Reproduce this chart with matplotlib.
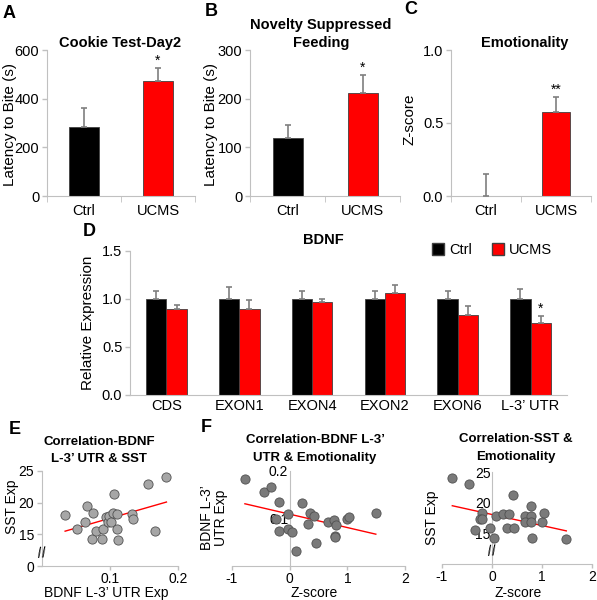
import matplotlib

matplotlib.use("Agg")
import matplotlib.pyplot as plt
import matplotlib.transforms as mtransforms
from matplotlib.patches import Patch

plt.rcParams.update({
    "font.family": ["Liberation Sans", "DejaVu Sans"],
    "font.size": 10.5,
    "axes.edgecolor": "#c0c0c0",
    "xtick.color": "#c0c0c0",
    "ytick.color": "#c0c0c0",
    "xtick.labelcolor": "black",
    "ytick.labelcolor": "black",
})

W, H = 597, 600
BLACK = "#000000"
RED = "#ff0000"
ERR = "#7f7f7f"
TICK = 10.5
LAB = 11
TITLE = 10.5
SC = 10

groups = ["Ctrl", "UCMS"]

# A: cookie test
cookie_mean = [285, 472]
cookie_err = [75, 53]
# B: novelty suppressed feeding
nsf_mean = [120, 212]
nsf_err = [26, 37]
# C: emotionality
emo_mean = [0.0, 0.575]
emo_err = [0.15, 0.105]

# D: BDNF exons
exons = ["CDS", "EXON1", "EXON4", "EXON2", "EXON6", "L-3\u2019 UTR"]
bdnf_ctrl = [1.0, 1.0, 1.0, 1.0, 1.0, 1.0]
bdnf_ctrl_err = [0.08, 0.13, 0.08, 0.08, 0.08, 0.10]
bdnf_ucms = [0.90, 0.90, 0.97, 1.065, 0.835, 0.75]
bdnf_ucms_err = [0.04, 0.09, 0.03, 0.08, 0.095, 0.077]

# E: BDNF L-3' UTR vs SST
e_bdnf = [0.034, 0.051, 0.063, 0.066, 0.075, 0.073, 0.079, 0.088, 0.090, 0.094, 0.0975, 0.099,
          0.1015, 0.104, 0.106, 0.111, 0.111, 0.112, 0.132, 0.134, 0.156, 0.166, 0.182]
e_sst = [18.0, 15.9, 17.0, 19.5, 18.4, 14.3, 15.6, 14.2, 15.9, 17.8, 17.0, 17.9,
         17.0, 18.4, 21.4, 18.2, 15.9, 14.1, 18.2, 17.4, 23.0, 15.5, 24.1]
e_fit_x = [0.034, 0.183]
e_fit_y = [15.5, 20.1]

# F1: emotionality vs BDNF L-3' UTR
f1_z = [-0.776, -0.443, -0.322, -0.19, -0.23, -0.178, -0.03, -0.03, 0.046, 0.109, 0.218, 0.316,
        0.345, 0.425, 0.454, 0.667, 0.77, 0.799, 0.782, 0.793, 0.994, 1.034, 1.494]
f1_bdnf = [0.1835, 0.156, 0.166, 0.134, 0.099, 0.074, 0.1086, 0.077, 0.0715, 0.0315, 0.132, 0.0886,
           0.1107, 0.105, 0.048, 0.0936, 0.0964, 0.0865, 0.0636, 0.061, 0.099, 0.103, 0.1107]
f1_fit_x = [-0.776, 1.494]
f1_fit_y = [0.131, 0.067]

# F2: emotionality vs SST
f2_z = [-0.794, -0.454, -0.2, -0.248, -0.2, -0.347, -0.047, 0.033, 0.086, 0.213, 0.333, 0.42,
        0.307, 0.44, 0.666, 0.773, 0.78, 0.666, 0.786, 0.8, 1.006, 1.03, 1.486]
f2_sst = [24.1, 23.0, 18.35, 17.4, 17.3, 15.5, 15.8, 14.2, 17.9, 18.2, 18.2, 21.3,
          15.9, 15.9, 17.8, 17.8, 19.4, 16.9, 16.9, 14.2, 16.9, 18.35, 14.1]
f2_fit_x = [-0.794, 1.486]
f2_fit_y = [19.5, 15.4]

fig = plt.figure(figsize=(W / 100, H / 100), dpi=100)


def px_axes(l, t, r, b):
    return fig.add_axes([l / W, 1 - b / H, (r - l) / W, (b - t) / H])


def ftext(x, y, s, **kw):
    fig.text(x / W, 1 - y / H, s, ha="center", va="center", **kw)


def style(ax, size=TICK):
    for side in ("top", "right"):
        ax.spines[side].set_visible(False)
    ax.tick_params(length=3.5, width=1, direction="out", labelsize=size, pad=2)


def bar_panel(ax, mean, err, ymax, yticks, fmt):
    x = range(len(groups))
    ax.bar(x, mean, width=0.4, color=[BLACK, RED], edgecolor="#404040", linewidth=0.6, zorder=2)
    ax.errorbar(x, mean, yerr=[[0] * len(err), err], fmt="none", ecolor=ERR,
                elinewidth=1.2, capsize=2.5, capthick=1.2, zorder=3)
    ax.set_xlim(-0.5, 1.5)
    ax.set_ylim(0, ymax)
    ax.set_yticks(yticks)
    ax.set_yticklabels([fmt(v) for v in yticks])
    ax.set_xticks(list(x))
    ax.set_xticklabels(groups)
    style(ax)
    ax.set_xticks([-0.5, 0.5, 1.5], minor=True)
    ax.tick_params(axis="x", which="minor", length=4)
    ax.tick_params(axis="x", which="major", length=0, pad=6)


# ---- A ----
axA = px_axes(47, 50, 195, 196)
bar_panel(axA, cookie_mean, cookie_err, 600, [0, 200, 400, 600], lambda v: f"{v:d}")
axA.text(1, cookie_mean[1] + cookie_err[1], "*", ha="center", va="bottom", fontsize=10)
ftext(120, 43, "Cookie Test-Day2", fontsize=TITLE, fontweight="bold")
ftext(10, 124, "Latency to Bite (s)", rotation=90, fontsize=LAB)
ftext(9, 13, "A", fontsize=13, fontweight="bold")

# ---- B ----
axB = px_axes(250, 50, 400, 196)
bar_panel(axB, nsf_mean, nsf_err, 300, [0, 100, 200, 300], lambda v: f"{v:d}")
axB.text(1, nsf_mean[1] + nsf_err[1], "*", ha="center", va="bottom", fontsize=10)
ftext(321, 25, "Novelty Suppressed", fontsize=TITLE, fontweight="bold")
ftext(321, 43, "Feeding", fontsize=TITLE, fontweight="bold")
ftext(211, 124, "Latency to Bite (s)", rotation=90, fontsize=LAB)
ftext(211, 12, "B", fontsize=13, fontweight="bold")

# ---- C ----
axC = px_axes(451, 50, 591, 196)
bar_panel(axC, emo_mean, emo_err, 1.0, [0.0, 0.5, 1.0], lambda v: f"{v:.1f}")
axC.text(1, emo_mean[1] + emo_err[1], "**", ha="center", va="bottom", fontsize=10)
ftext(525, 43, "Emotionality", fontsize=TITLE, fontweight="bold")
ftext(409, 119, "Z-score", rotation=90, fontsize=LAB)
ftext(411, 9, "C", fontsize=13, fontweight="bold")

# ---- D ----
axD = px_axes(130, 251, 567, 395)
xd = list(range(len(exons)))
bw = 0.28
xc = [i - bw / 2 for i in xd]
xu = [i + bw / 2 for i in xd]
axD.bar(xc, bdnf_ctrl, width=bw, color=BLACK, edgecolor="#404040", linewidth=0.6, zorder=2)
axD.bar(xu, bdnf_ucms, width=bw, color=RED, edgecolor="#404040", linewidth=0.6, zorder=2)
axD.errorbar(xc, bdnf_ctrl, yerr=[[0] * 6, bdnf_ctrl_err], fmt="none", ecolor=ERR,
             elinewidth=1.2, capsize=2.5, capthick=1.2, zorder=3)
axD.errorbar(xu, bdnf_ucms, yerr=[[0] * 6, bdnf_ucms_err], fmt="none", ecolor=ERR,
             elinewidth=1.2, capsize=2.5, capthick=1.2, zorder=3)
axD.text(xu[5], bdnf_ucms[5] + bdnf_ucms_err[5], "*", ha="center", va="bottom", fontsize=10)
axD.set_xlim(-0.5, 5.5)
axD.set_ylim(0, 1.5)
axD.set_yticks([0.0, 0.5, 1.0, 1.5])
axD.set_yticklabels(["0.0", "0.5", "1.0", "1.5"])
axD.set_xticks(xd)
axD.set_xticklabels(exons)
style(axD)
axD.tick_params(axis="x", length=0, pad=3)
ftext(88, 323, "Relative Expression", rotation=90, fontsize=LAB)
ftext(323, 240, "BDNF", fontsize=TITLE, fontweight="bold")
ftext(89, 231, "D", fontsize=13, fontweight="bold")
fig.legend(handles=[Patch(facecolor=BLACK, edgecolor="#404040", label="Ctrl"),
                    Patch(facecolor=RED, edgecolor="#404040", label="UCMS")],
           loc="center", bbox_to_anchor=(492 / W, 1 - 250 / H), ncol=2, frameon=False,
           handlelength=0.85, handleheight=0.85, handletextpad=0.3, columnspacing=1.4,
           fontsize=TICK)


def scatter_panel(ax, x, y, fx, fy, face):
    ax.scatter(x, y, s=44, facecolor=face, edgecolor="#505050", linewidth=0.6, zorder=3)
    ax.plot(fx, fy, color=RED, linewidth=1.0, zorder=2)
    style(ax, SC)
    ax.tick_params(axis="x", length=3, pad=1.5)


def brk(ax, xpos):
    tr = mtransforms.blended_transform_factory(ax.transData, ax.transData)
    ax.text(xpos, 12.0, "//", transform=tr, ha="center", va="center", fontsize=11,
            rotation=5, zorder=5, clip_on=False)


# ---- E ----
axE = px_axes(42, 471, 178, 566)
scatter_panel(axE, e_bdnf, e_sst, e_fit_x, e_fit_y, "#a6a6a6")
axE.set_xlim(0, 0.2)
axE.set_ylim(10, 25)
axE.set_xticks([0.1, 0.2])
axE.set_xticklabels(["0.1", "0.2"])
axE.set_yticks([10, 15, 20, 25])
axE.set_yticklabels(["0", "15", "20", "25"])
brk(axE, 0)
ftext(12, 507, "SST Exp", rotation=90, fontsize=SC)
ftext(106, 593, "BDNF L-3\u2019 UTR Exp", fontsize=SC)
ftext(99, 442, "Correlation-BDNF", fontsize=9.5, fontweight="bold")
ftext(99, 459, "L-3\u2019 UTR & SST", fontsize=9.5, fontweight="bold")
ftext(15, 430, "E", fontsize=13, fontweight="bold")

# ---- F1 ----
axF1 = px_axes(232, 471, 405, 566)
scatter_panel(axF1, f1_z, f1_bdnf, f1_fit_x, f1_fit_y, "#7a7a7a")
axF1.set_xlim(-1, 2)
axF1.set_ylim(0, 0.2)
axF1.spines["left"].set_position(("data", 0))
axF1.set_xticks([-1, 0, 1, 2])
axF1.set_xticklabels(["-1", "0", "1", "2"])
axF1.set_yticks([0.1, 0.2])
axF1.set_yticklabels(["0.1", "0.2"])
axF1.tick_params(axis="y", length=0, pad=1)
ftext(214, 518, "BDNF L-3\u2019\nUTR Exp", rotation=90, fontsize=SC, linespacing=1.0)
ftext(314, 593, "Z-score", fontsize=SC)
ftext(315, 440, "Correlation-BDNF L-3\u2019", fontsize=9.5, fontweight="bold")
ftext(315, 458, "UTR & Emotionality", fontsize=9.5, fontweight="bold")
ftext(206, 428, "F", fontsize=13, fontweight="bold")

# ---- F2 ----
axF2 = px_axes(442, 472, 592, 564)
scatter_panel(axF2, f2_z, f2_sst, f2_fit_x, f2_fit_y, "#7a7a7a")
axF2.set_xlim(-1, 2)
axF2.set_ylim(10, 25)
axF2.spines["left"].set_position(("data", 0))
axF2.set_xticks([-1, 0, 1, 2])
axF2.set_xticklabels(["-1", "0", "1", "2"])
axF2.set_yticks([15, 20, 25])
axF2.set_yticklabels(["15", "20", "25"])
axF2.tick_params(axis="y", length=0, pad=1)
brk(axF2, 0)
ftext(432, 518, "SST Exp", rotation=90, fontsize=SC)
ftext(518, 593, "Z-score", fontsize=SC)
ftext(516, 439, "Correlation-SST &", fontsize=9.5, fontweight="bold")
ftext(516, 457, "Emotionality", fontsize=9.5, fontweight="bold")

fig.savefig("out.png", dpi=100)
